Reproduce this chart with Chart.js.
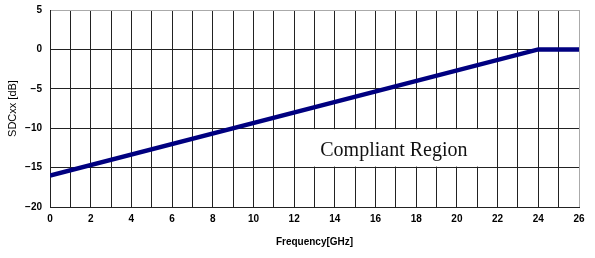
<!DOCTYPE html>
<html>
<head>
<meta charset="utf-8">
<script src="https://cdn.jsdelivr.net/npm/chart.js@4/dist/chart.umd.min.js"></script>
<style>
  html, body { margin:0; padding:0; background:#fff; }
  #wrap { width:595px; height:258px; }
</style>
</head>
<body>
<div id="wrap"><canvas id="myChart" width="595" height="258"></canvas></div>
<script>
// limit line: SDCxx vs frequency
var freqGHz = [0, 24, 26];
var sdcDb = [-16, 0, 0];
var regionLabel = "Compliant Region";
var regionBox = { x1: 12, x2: 22, y1: -10, y2: -15, tx: 16.9, ty: -12.9 };

var regionPlugin = {
	id: 'region',
	beforeDatasetsDraw: function(chart){
		var ctx = chart.ctx, xs = chart.scales.x, ys = chart.scales.y;
		var l = xs.getPixelForValue(regionBox.x1), r = xs.getPixelForValue(regionBox.x2);
		var t = ys.getPixelForValue(regionBox.y1), b = ys.getPixelForValue(regionBox.y2);
		ctx.save();
		ctx.fillStyle = '#fff';
		ctx.fillRect(l + 1, t + 1, r - l - 2, b - t - 2);
		ctx.fillStyle = '#111';
		ctx.font = '20px "Liberation Serif", serif';
		ctx.textAlign = 'center';
		ctx.textBaseline = 'middle';
		ctx.fillText(regionLabel, xs.getPixelForValue(regionBox.tx), ys.getPixelForValue(regionBox.ty));
		ctx.restore();
	}
};

function setup() {
	var points = [];
	for (var i = 0; i < freqGHz.length; i++) {
		points.push({x: freqGHz[i], y: sdcDb[i]});
	}
	var ctx = document.getElementById('myChart').getContext('2d');
	var chart = new Chart(ctx, {
		type: 'line',
		data: {
			datasets: [{
				data: points,
				borderColor: '#000080',
				borderWidth: 4.5,
				pointRadius: 0,
				tension: 0,
				borderCapStyle: 'butt'
			}]
		},
		options: {
			responsive: false,
			animation: false,
			plugins: { legend: {display:false}, tooltip: {enabled:false} },
			layout: { padding: {left:0, right:16, top:10, bottom:0} },
			scales: {
				x: {
					type: 'linear', min: 0, max: 26,
					afterFit: function(s){ s.height = 51; },
					ticks: {
						stepSize: 1, autoSkip: false, maxRotation: 0,
						color: '#000', padding: 6,
						font: {family: '"Liberation Sans", Arial', size: 10, weight: 'bold'},
						callback: function(v){ return v % 2 === 0 ? String(v) : ''; }
					},
					grid: {
						drawTicks: false,
						color: function(c){ return c.tick && c.tick.value === 26 ? '#aaa' : '#222'; },
						lineWidth: 1
					},
					border: { color: '#222', width: 1 },
					title: {
						display: true, text: 'Frequency[GHz]', color: '#000',
						font: {family: '"Liberation Sans", Arial', size: 10, weight: 'bold'},
						padding: {top: 8, bottom: 10}
					}
				},
				y: {
					min: -20, max: 5,
					afterFit: function(s){ s.width = 50; s.paddingTop = 0; s.paddingBottom = 0; },
					ticks: {
						stepSize: 5, color: '#000', padding: 8,
						font: {family: '"Liberation Sans", Arial', size: 10, weight: 'bold'},
						callback: function(v){ return v < 0 ? '\u2212' + Math.abs(v) : String(v); }
					},
					grid: {
						drawTicks: false,
						color: function(c){ return c.tick && c.tick.value === 5 ? '#aaa' : '#222'; },
						lineWidth: 1
					},
					border: { color: '#222', width: 1 },
					title: {
						display: true, text: 'SDCxx [dB]', color: '#000',
						font: {family: '"Liberation Sans", Arial', size: 11},
						padding: {top: 6, bottom: 6}
					}
				}
			}
		},
		plugins: [regionPlugin]
	});
}
window.onload = setup;
</script>
</body>
</html>
